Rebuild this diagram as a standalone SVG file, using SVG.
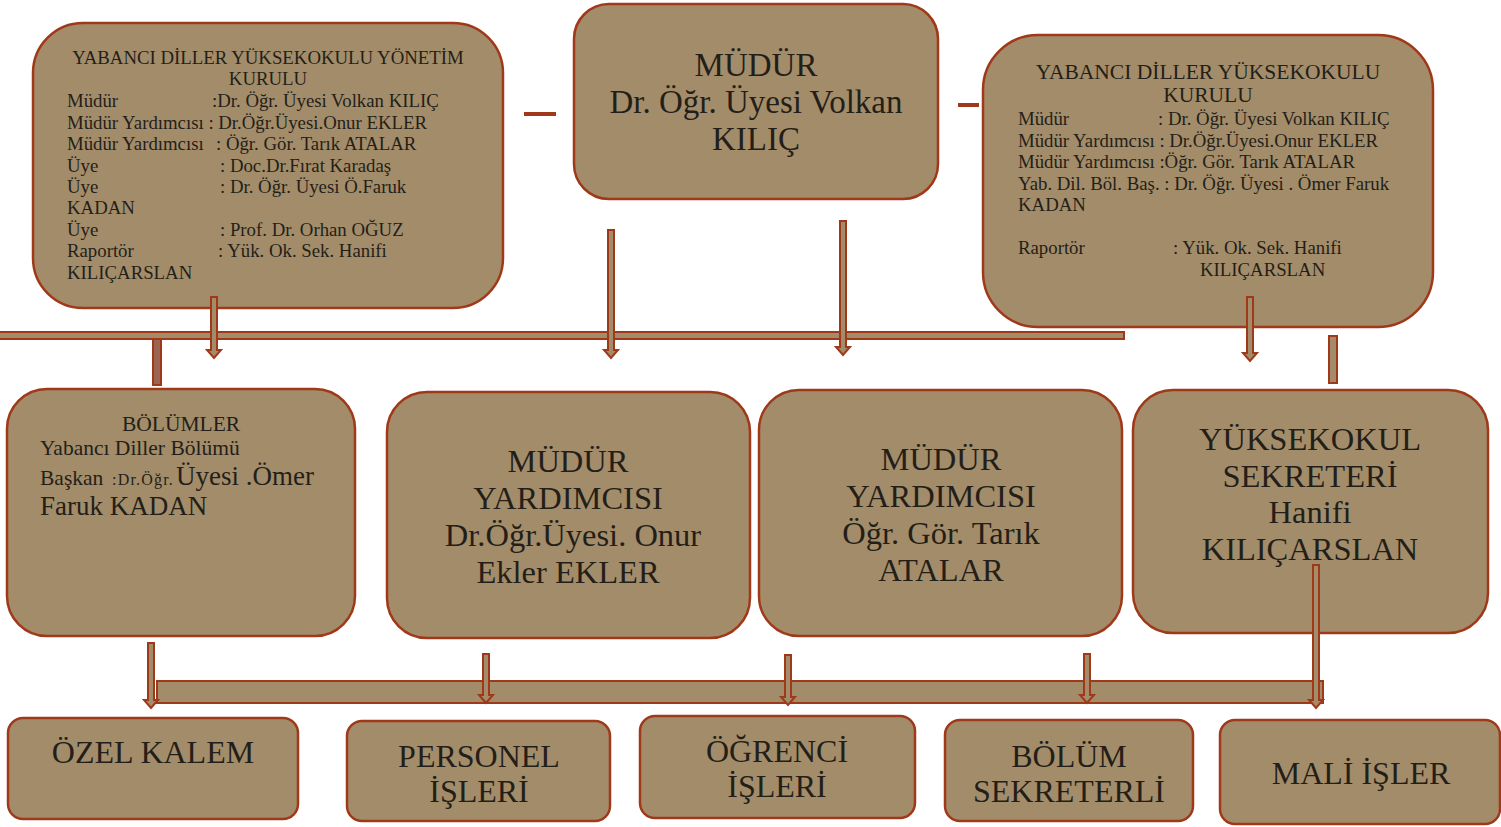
<svg xmlns="http://www.w3.org/2000/svg" width="1501" height="827" viewBox="0 0 1501 827">
<style>
.box{fill:#A38C6A;stroke:#A0391A;stroke-width:2.5}
.arr{fill:#A38C6A;stroke:#A0391A;stroke-width:2}
.band{fill:#A38C6A;stroke:#A0391A;stroke-width:2}
.bar{fill:#9A6652;stroke:#A0391A;stroke-width:2}
.dash{fill:#A0391A}
text{font-family:"Liberation Serif","Times New Roman",serif;fill:#231F18}
.s17{font-size:18.8px}
.s19{font-size:21.5px}
.s30{font-size:33px}
.s32{font-size:32.5px}
.s31{font-size:32px}
.c{text-anchor:middle}
</style>
<rect width="1501" height="827" fill="#fff"/>

<g id="node-yonetim-kurulu">
<rect class="box" x="33" y="23" width="470" height="285" rx="50"/>
<text class="s17 c" x="268" y="64">YABANCI DİLLER YÜKSEKOKULU YÖNETİM</text>
<text class="s17 c" x="268" y="85">KURULU</text>
<text class="s17" x="67" y="107">Müdür</text><text class="s17" x="212" y="107">:Dr. Öğr. Üyesi Volkan KILIÇ</text>
<text class="s17" x="67" y="129">Müdür Yardımcısı : Dr.Öğr.Üyesi.Onur EKLER</text>
<text class="s17" x="67" y="150">Müdür Yardımcısı</text><text class="s17" x="216" y="150">: Öğr. Gör. Tarık ATALAR</text>
<text class="s17" x="67" y="172">Üye</text><text class="s17" x="220" y="172">: Doc.Dr.Fırat Karadaş</text>
<text class="s17" x="67" y="193">Üye</text><text class="s17" x="220" y="193">: Dr. Öğr. Üyesi Ö.Faruk</text>
<text class="s17" x="67" y="214">KADAN</text>
<text class="s17" x="67" y="236">Üye</text><text class="s17" x="220" y="236">: Prof. Dr. Orhan OĞUZ</text>
<text class="s17" x="67" y="257">Raportör</text><text class="s17" x="218" y="257">: Yük. Ok. Sek. Hanifi</text>
<text class="s17" x="67" y="279">KILIÇARSLAN</text>
</g>

<g id="node-mudur">
<rect class="box" x="574" y="4" width="364" height="195" rx="35"/>
<text class="s30 c" x="756" y="76">MÜDÜR</text>
<text class="s30 c" x="756" y="113">Dr. Öğr. Üyesi Volkan</text>
<text class="s30 c" x="756" y="150">KILIÇ</text>
</g>

<g id="node-yuksekokul-kurulu">
<rect class="box" x="983" y="35" width="450" height="292" rx="55"/>
<text class="s19 c" x="1208" y="79">YABANCI DİLLER YÜKSEKOKULU</text>
<text class="s19 c" x="1208" y="102">KURULU</text>
<text class="s17" x="1018" y="125">Müdür</text><text class="s17" x="1158" y="125">: Dr. Öğr. Üyesi Volkan KILIÇ</text>
<text class="s17" x="1018" y="147">Müdür Yardımcısı : Dr.Öğr.Üyesi.Onur EKLER</text>
<text class="s17" x="1018" y="168">Müdür Yardımcısı :Öğr. Gör. Tarık ATALAR</text>
<text class="s17" x="1018" y="190">Yab. Dil. Böl. Baş. : Dr. Öğr. Üyesi . Ömer Faruk</text>
<text class="s17" x="1018" y="211">KADAN</text>
<text class="s17" x="1018" y="254">Raportör</text><text class="s17" x="1173" y="254">: Yük. Ok. Sek. Hanifi</text>
<text class="s17" x="1200" y="276">KILIÇARSLAN</text>
</g>

<g id="node-bolumler">
<rect class="box" x="7" y="389" width="348" height="247" rx="40"/>
<text class="s19 c" x="181" y="431">BÖLÜMLER</text>
<text class="s19" x="40" y="455">Yabancı Diller Bölümü</text>
<text x="40" y="485"><tspan style="font-size:21.5px">Başkan</tspan><tspan x="112" style="font-size:16px;letter-spacing:1.2px">:Dr.Öğr.</tspan><tspan x="176" style="font-size:27px">Üyesi .Ömer</tspan></text>
<text x="40" y="515" style="font-size:27px">Faruk KADAN</text>
</g>

<g id="node-mudur-yrd-1">
<rect class="box" x="387" y="392" width="363" height="246" rx="40"/>
<text class="s32 c" x="568" y="472">MÜDÜR</text>
<text class="s32 c" x="568" y="509">YARDIMCISI</text>
<text class="s32 c" x="573" y="546">Dr.Öğr.Üyesi. Onur</text>
<text class="s32 c" x="568" y="583">Ekler EKLER</text>
</g>

<g id="node-mudur-yrd-2">
<rect class="box" x="759" y="390" width="363" height="246" rx="40"/>
<text class="s32 c" x="941" y="470">MÜDÜR</text>
<text class="s32 c" x="941" y="507">YARDIMCISI</text>
<text class="s32 c" x="941" y="544">Öğr. Gör. Tarık</text>
<text class="s32 c" x="941" y="581">ATALAR</text>
</g>

<g id="node-sekreter">
<rect class="box" x="1133" y="390" width="355" height="243" rx="40"/>
<text class="s32 c" x="1310" y="450">YÜKSEKOKUL</text>
<text class="s32 c" x="1310" y="487">SEKRETERİ</text>
<text class="s32 c" x="1310" y="523">Hanifi</text>
<text class="s32 c" x="1310" y="560">KILIÇARSLAN</text>
</g>

<g id="node-ozel-kalem">
<rect class="box" x="8" y="718" width="290" height="101" rx="15"/>
<text class="s31 c" x="153" y="763">ÖZEL KALEM</text>
</g>
<g id="node-personel">
<rect class="box" x="347" y="721" width="263" height="100" rx="15"/>
<text class="s31 c" x="479" y="767">PERSONEL</text>
<text class="s31 c" x="479" y="802">İŞLERİ</text>
</g>
<g id="node-ogrenci">
<rect class="box" x="640" y="716" width="275" height="102" rx="15"/>
<text class="s31 c" x="777" y="762">ÖĞRENCİ</text>
<text class="s31 c" x="777" y="797">İŞLERİ</text>
</g>
<g id="node-bolum-sekreterli">
<rect class="box" x="945" y="720" width="248" height="101" rx="15"/>
<text class="s31 c" x="1069" y="767">BÖLÜM</text>
<text class="s31 c" x="1069" y="802">SEKRETERLİ</text>
</g>
<g id="node-mali">
<rect class="box" x="1220" y="720" width="280" height="104" rx="15"/>
<text class="s31 c" x="1361" y="784">MALİ İŞLER</text>
</g>

<g id="connectors">
<rect class="dash" x="524" y="112" width="32" height="4"/>
<rect class="dash" x="958" y="103" width="21" height="4"/>
<rect class="band" x="-2" y="332" width="1126" height="7"/>
<rect class="bar" x="153" y="339" width="8" height="46"/>
<rect class="band" x="1329" y="336" width="8" height="47"/>
<path class="arr" d="M211,297 H217 V350 H221 L214,358 L207,350 H211 Z"/>
<path class="arr" d="M608,230 H614 V350 H618 L611,358 L604,350 H608 Z"/>
<path class="arr" d="M840,221 H846 V347 H850 L843,355 L836,347 H840 Z"/>
<path class="arr" d="M1247,297 H1253 V353 H1257 L1250,361 L1243,353 H1247 Z"/>
<rect class="band" x="157" y="681" width="1166" height="22"/>
<path class="arr" d="M148,643 H154 V700 H158 L151,708 L144,700 H148 Z"/>
<path class="arr" d="M483,654 H489 V695 H493 L486,703 L479,695 H483 Z"/>
<path class="arr" d="M785,655 H791 V697 H795 L788,705 L781,697 H785 Z"/>
<path class="arr" d="M1084,654 H1090 V695 H1094 L1087,703 L1080,695 H1084 Z"/>
<path class="arr" d="M1313,565 H1319 V700 H1323 L1316,708 L1309,700 H1313 Z"/>
</g>
</svg>
